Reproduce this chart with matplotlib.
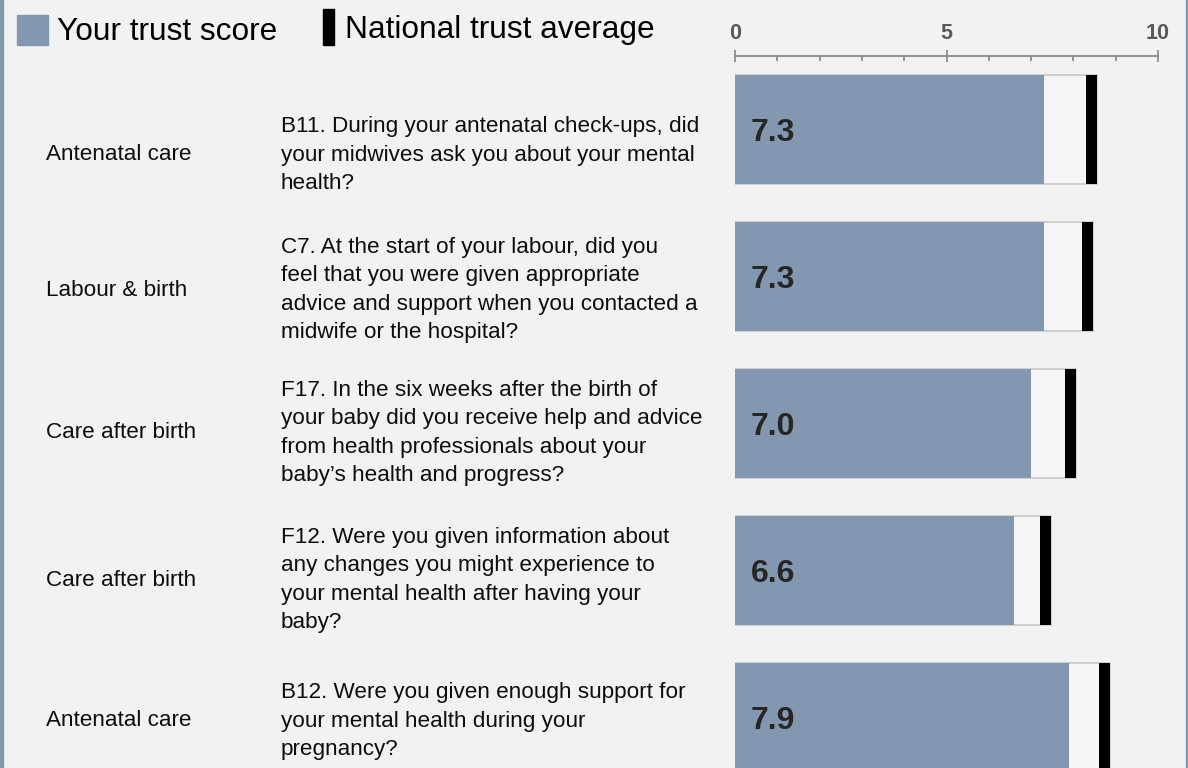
import numpy as np
import matplotlib
matplotlib.use("Agg")
import matplotlib.pyplot as plt
from matplotlib.patches import Rectangle

plt.rcParams['font.family'] = ['Liberation Sans', 'DejaVu Sans']

# data
sections = ["Antenatal care", "Labour & birth", "Care after birth",
            "Care after birth", "Antenatal care"]
questions = [
    "B11. During your antenatal check-ups, did\nyour midwives ask you about your mental\nhealth?",
    "C7. At the start of your labour, did you\nfeel that you were given appropriate\nadvice and support when you contacted a\nmidwife or the hospital?",
    "F17. In the six weeks after the birth of\nyour baby did you receive help and advice\nfrom health professionals about your\nbaby\u2019s health and progress?",
    "F12. Were you given information about\nany changes you might experience to\nyour mental health after having your\nbaby?",
    "B12. Were you given enough support for\nyour mental health during your\npregnancy?",
]
trust_score = [7.3, 7.3, 7.0, 6.6, 7.9]
national_avg = [8.43, 8.33, 7.93, 7.34, 8.74]
ticks_major = [0, 5, 10]

# colours / layout
bg = "#f2f2f2"
blue = "#8497b0"
W, H = 1188, 768
pitch = 147.0          # px between rows
first_center = 129.5   # px from top
bar_h = 109 / pitch
marker_w = 0.26
text_y = [155, 290, 433, 580, 721]  # px, centre of question text blocks

fig = plt.figure(figsize=(W / 100, H / 100), dpi=100, facecolor=bg)

ax = fig.add_axes([735 / W, 0, 423 / W, 1])
ax.set_facecolor("none")
top = -first_center / pitch
ax.set_ylim(top + H / pitch, top)
ax.set_xlim(0, 10)

y = np.arange(len(trust_score))
nat = np.array(national_avg)
ax.barh(y, nat + marker_w / 2, height=bar_h, left=0, color="#f5f5f5",
        edgecolor="#c8c8c8", linewidth=1.2, zorder=1)
ax.barh(y, trust_score, height=bar_h, color=blue, zorder=2)
ax.barh(y, marker_w, left=nat - marker_w / 2, height=bar_h, color="black", zorder=3)
for yi, v in zip(y, trust_score):
    ax.text(0.38, yi + 0.025, f"{v:.1f}", ha="left", va="center", fontsize=23,
            fontweight="bold", color="#262626", zorder=4)

# scale on top
for s in ["left", "right", "bottom"]:
    ax.spines[s].set_visible(False)
ax.spines["top"].set_position(("data", top + 56.5 / pitch))
ax.spines["top"].set_color("#8c8c8c")
ax.spines["top"].set_linewidth(1.3)
ax.xaxis.set_ticks_position("top")
ax.set_xticks(ticks_major)
ax.set_xticks(np.arange(0, 11, 1), minor=True)
ax.tick_params(axis="x", which="major", direction="inout", length=8, width=1.3,
               color="#8c8c8c", labelsize=15.5, labelcolor="#595959", pad=4.8)
ax.tick_params(axis="x", which="minor", direction="in", length=3.6, width=1.3,
               color="#8c8c8c")
for lab in ax.get_xticklabels():
    lab.set_fontweight("bold")
ax.set_yticks([])

# text columns
for sec, q, ty in zip(sections, questions, text_y):
    fig.text(46 / W, 1 - ty / H, sec, ha="left", va="center", fontsize=16.2,
             color="#0d0d0d")
    fig.text(281 / W, 1 - ty / H, q, ha="left", va="center", fontsize=16.2,
             color="#0d0d0d", linespacing=1.45)

# legend
fig.add_artist(Rectangle((17 / W, 1 - 45 / H), 31 / W, 30 / H,
                         transform=fig.transFigure, color=blue))
fig.text(57 / W, 1 - 40 / H, "Your trust score", ha="left", va="baseline",
         fontsize=22.8, color="black")
fig.add_artist(Rectangle((323 / W, 1 - 45 / H), 11 / W, 36 / H,
                         transform=fig.transFigure, color="black"))
fig.text(345 / W, 1 - 38 / H, "National trust average", ha="left",
         va="baseline", fontsize=22.8, color="black")

# side borders
fig.add_artist(Rectangle((0, 0), 2.5 / W, 1, transform=fig.transFigure, color=blue))
fig.add_artist(Rectangle((1 - 2.5 / W, 0), 2.5 / W, 1, transform=fig.transFigure,
                         color=blue))

fig.savefig("out.png", dpi=100, facecolor=bg)
